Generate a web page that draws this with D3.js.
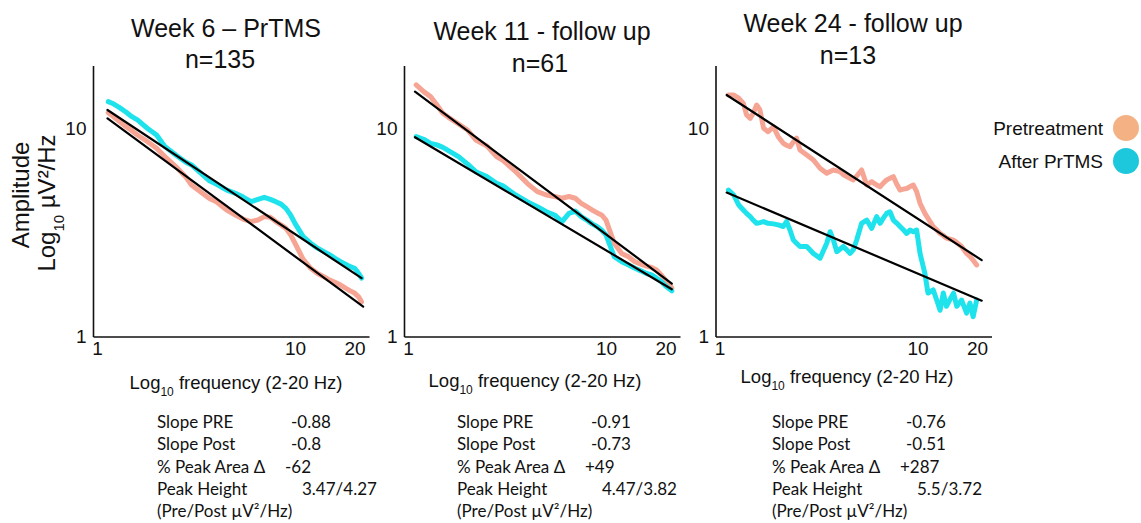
<!DOCTYPE html>
<html>
<head>
<meta charset="utf-8">
<script src="https://cdn.jsdelivr.net/npm/d3@7"></script>
<style>
    body { margin: 0; background: #fff; }
    text { font-family: "Liberation Sans", Arial, sans-serif; fill: #111; }
    .stats text { font-family: Lato, "Open Sans", sans-serif; }
</style>
</head>
<body>
<svg id="chart" width="1141" height="523"></svg>
<script>
const titles = ['Week 6 \u2013 PrTMS', 'Week 11 - follow up', 'Week 24 - follow up'];
const groupSizes = ['n=135', 'n=61', 'n=13'];
const seriesNames = ['Pretreatment', 'After PrTMS'];
const xTickValues = [1, 10, 20];
const yTickValues = [1, 10];

// week 6 spectra (Hz, µV²/Hz)
const freq6 = [1.14, 1.2, 1.3, 1.4, 1.5, 1.6, 1.8, 2, 2.2, 2.5, 2.8, 3, 3.5, 3.7, 4, 4.5, 5, 5.5, 6, 6.5,
    7, 7.5, 8, 8.5, 9, 9.5, 10, 11, 12, 13, 14, 15, 16, 17, 18, 19, 20, 21, 21.7];
const pre6 = [11.92, 11.49, 10.79, 10.2, 9.76, 9.3, 8.64, 8.03, 7.32, 6.55, 5.86, 5.34, 4.78, 4.6, 4.44, 4.05,
    3.83, 3.65, 3.56, 3.62, 3.76, 3.73, 3.56, 3.43, 3.3, 3.07, 2.8, 2.34, 2.12, 2.0, 1.93, 1.86, 1.81, 1.76,
    1.7, 1.65, 1.61, 1.54, 1.46];
const post6 = [13.46, 13.2, 12.6, 12.0, 11.4, 11.0, 10.0, 9.3, 8.2, 7.45, 6.9, 6.67, 5.86, 5.6, 5.4, 5.06,
    4.87, 4.66, 4.44, 4.55, 4.66, 4.55, 4.44, 4.32, 4.12, 3.83, 3.49, 3.01, 2.8, 2.65, 2.55, 2.46, 2.36, 2.28,
    2.22, 2.16, 2.12, 2.0, 1.9];
const fitPreFreq6 = [1.13, 22.1];
const fitPreAmp6 = [11.19, 1.385];
const fitPostFreq6 = [1.13, 21.7];
const fitPostAmp6 = [12.28, 1.9];

// week 11
const freq11 = [1.1, 1.2, 1.3, 1.4, 1.5, 1.6, 1.8, 2, 2.2, 2.5, 2.8, 3, 3.5, 4, 4.5, 5, 5.5, 6, 6.5, 7,
    7.5, 8, 8.5, 9, 9.5, 10, 11, 12, 13, 14, 15, 16, 17, 18, 19, 20, 21, 21.5];
const pre11 = [16.2, 15.05, 14.24, 12.98, 11.83, 11.32, 10.51, 9.83, 8.8, 8.24, 7.32, 7.05, 6.19, 5.44, 4.96,
    4.78, 4.7, 4.61, 4.7, 4.61, 4.36, 4.2, 4.05, 3.93, 3.83, 3.62, 2.8, 2.5, 2.41, 2.28, 2.22, 2.17, 2.14, 2.08,
    1.97, 1.86, 1.76, 1.7];
const post11 = [9.13, 8.87, 8.48, 8.33, 8.11, 7.82, 7.32, 6.73, 6.19, 5.86, 5.44, 5.31, 4.78, 4.44, 4.2,
    3.97, 3.83, 3.56, 3.9, 4.0, 3.76, 3.62, 3.47, 3.37, 3.24, 3.07, 2.41, 2.28, 2.2, 2.12, 2.06, 2.0, 1.97,
    1.9, 1.83, 1.74, 1.68, 1.65];
const fitPreFreq11 = [1.085, 21.5];
const fitPreAmp11 = [15.05, 1.79];
const fitPostFreq11 = [1.085, 21.5];
const fitPostAmp11 = [9.07, 1.68];

// week 24
const freq24 = [1.11, 1.18, 1.25, 1.32, 1.37, 1.43, 1.48, 1.54, 1.6, 1.67, 1.76, 1.87, 1.98, 2.1, 2.18, 2.27,
    2.36, 2.45, 2.55, 2.76, 2.98, 3.22, 3.48, 3.62, 3.76, 3.91, 4.06, 4.22, 4.39, 4.56, 4.74, 4.93, 5.22, 5.54,
    5.87, 6.22, 6.47, 6.72, 6.99, 7.26, 7.55, 7.85, 8.16, 8.48, 8.82, 9.17, 9.53, 9.9, 10.3, 10.9, 11.3, 12.0,
    12.5, 13.0, 13.5, 14.0, 14.6, 15.2, 15.8, 16.7, 17.7, 18.4, 19.1, 19.9];
const pre24 = [14.5, 14.5, 14.0, 13.22, 11.62, 11.19, 11.83, 12.98, 12.28, 10.02, 9.65, 10.2, 9.13, 8.48, 8.3,
    8.17, 8.6, 8.97, 7.88, 7.45, 7.05, 6.43, 6.08, 6.2, 6.31, 6.25, 6.19, 6.0, 5.86, 5.75, 5.65, 5.9, 6.31,
    5.34, 5.54, 5.34, 5.24, 5.45, 5.65, 5.75, 5.86, 5.4, 5.05, 5.1, 5.14, 5.25, 5.34, 4.96, 4.36, 3.9, 3.69,
    3.37, 3.25, 3.12, 3.05, 2.96, 2.93, 2.9, 2.82, 2.7, 2.5, 2.42, 2.32, 2.2];
const post24 = [5.05, 4.78, 4.28, 4.05, 3.9, 3.76, 3.62, 3.49, 3.52, 3.56, 3.49, 3.47, 3.43, 3.37, 3.56, 3.24,
    2.9, 2.8, 2.7, 2.7, 2.5, 2.37, 2.8, 3.18, 2.9, 2.55, 2.62, 2.7, 2.6, 2.5, 2.6, 2.9, 3.49, 3.62, 3.3, 3.76,
    3.49, 3.7, 3.9, 3.97, 3.62, 3.5, 3.37, 3.25, 3.12, 3.24, 3.18, 3.24, 2.5, 2.0, 1.61, 1.67, 1.49, 1.33,
    1.61, 1.39, 1.5, 1.61, 1.39, 1.49, 1.29, 1.44, 1.24, 1.49];
const fitPreFreq24 = [1.087, 21.1];
const fitPreAmp24 = [14.5, 2.32];
const fitPostFreq24 = [1.087, 21.1];
const fitPostAmp24 = [4.91, 1.48];

// summary statistics under each panel
const slopePre = ['-0.88', '-0.91', '-0.76'];
const slopePost = ['-0.8', '-0.73', '-0.51'];
const peakAreaDelta = ['-62', '+49', '+287'];
const peakHeight = ['3.47/4.27', '4.47/3.82', '5.5/3.72'];

const preColor = '#F6A594';
const postColor = '#1EE2EC';
const legendColors = ['#F4B183', '#1DC7DC'];

const zip = (xs, ys) => xs.map((x, i) => ({ f: x, a: ys[i] }));

const panels = [
    { freq: freq6, pre: pre6, post: post6, fitPre: zip(fitPreFreq6, fitPreAmp6), fitPost: zip(fitPostFreq6, fitPostAmp6) },
    { freq: freq11, pre: pre11, post: post11, fitPre: zip(fitPreFreq11, fitPreAmp11), fitPost: zip(fitPostFreq11, fitPostAmp11) },
    { freq: freq24, pre: pre24, post: post24, fitPre: zip(fitPreFreq24, fitPreAmp24), fitPost: zip(fitPostFreq24, fitPostAmp24) }
];

// layout
const layout = {
    origin: [97, 408, 719.5],      // x pixel of 1 Hz in each panel
    pxPerDecade: 198,
    axisLength: 276,
    titleX: [226, 542, 853],
    titleY: [37, 40, 32],
    nX: [220, 540, 848],
    nY: [68, 72, 64],
    xLabelX: [236, 535, 847],
    xLabelY: [389, 387, 383],
    statsX: [157, 457, 772],
    statsRows: [428, 450, 473, 495, 517],
    valueOffset: [134, 134, 128, 145]
};

const svg = d3.select('#chart');
const yScale = d3.scaleLog().domain([1, 20]).range([336, 66]);

function getXScale(i) {
    const x0 = layout.origin[i];
    return d3.scaleLog().domain([1, 20]).range([x0, x0 + layout.pxPerDecade * Math.log10(20)]);
}

function appendAxes(g, xScale) {
    const left = xScale.range()[0] - 3.5;
    const bottom = yScale(1) + 1;

    g.append('line').attr('x1', left).attr('x2', left)
        .attr('y1', bottom).attr('y2', yScale(20))
        .attr('stroke', '#111').attr('stroke-width', 1.6);
    g.append('line').attr('x1', left).attr('x2', left + layout.axisLength)
        .attr('y1', bottom).attr('y2', bottom)
        .attr('stroke', '#111').attr('stroke-width', 1.6);

    const yAxis = d3.axisLeft(yScale).tickValues(yTickValues).tickFormat(d3.format('d'))
        .tickSize(0).tickPadding(7);
    const ya = g.append('g').attr('transform', `translate(${left},0)`).call(yAxis);
    ya.select('.domain').remove();

    const xAxis = d3.axisBottom(xScale).tickValues(xTickValues).tickFormat(d3.format('d'))
        .tickSize(0).tickPadding(5);
    const xa = g.append('g').attr('transform', `translate(0,${bottom})`).call(xAxis);
    xa.select('.domain').remove();

    g.selectAll('.tick text')
        .style('font-family', '"Liberation Sans", Arial, sans-serif')
        .style('font-size', '19px')
        .attr('fill', '#111');
}

function appendCurve(g, xScale, points, color, width) {
    const lineGen = d3.line().x((d) => xScale(d.f)).y((d) => yScale(d.a));
    g.append('path').attr('d', lineGen(points))
        .attr('fill', 'none')
        .attr('stroke', color)
        .attr('stroke-width', width)
        .attr('stroke-linejoin', 'round')
        .attr('stroke-linecap', 'round');
}

function appendPanel(i) {
    const p = panels[i];
    const xScale = getXScale(i);
    const g = svg.append('g');

    appendAxes(g, xScale);
    appendCurve(g, xScale, zip(p.freq, p.pre), preColor, 5);
    appendCurve(g, xScale, zip(p.freq, p.post), postColor, 5);
    appendCurve(g, xScale, p.fitPre, '#000', 2.2);
    appendCurve(g, xScale, p.fitPost, '#000', 2.2);

    // titles
    g.append('text').text(titles[i])
        .attr('x', layout.titleX[i]).attr('y', layout.titleY[i])
        .attr('text-anchor', 'middle').style('font-size', '25px');
    g.append('text').text(groupSizes[i])
        .attr('x', layout.nX[i]).attr('y', layout.nY[i])
        .attr('text-anchor', 'middle').style('font-size', '25px');

    // x label
    const xl = g.append('text')
        .attr('x', layout.xLabelX[i]).attr('y', layout.xLabelY[i])
        .attr('text-anchor', 'middle').style('font-size', '18.5px');
    xl.append('tspan').text('Log');
    xl.append('tspan').text('10').attr('baseline-shift', 'sub').style('font-size', '12px');
    xl.append('tspan').text(' frequency (2-20 Hz)');

    // statistics
    const st = g.append('g').attr('class', 'stats');
    const x0 = layout.statsX[i];
    const rows = [
        ['Slope PRE', slopePre[i]],
        ['Slope Post', slopePost[i]],
        ['% Peak Area \u0394', peakAreaDelta[i]],
        ['Peak Height', peakHeight[i]]
    ];
    rows.forEach((r, k) => {
        st.append('text').text(r[0]).attr('x', x0).attr('y', layout.statsRows[k]).style('font-size', '17px');
        st.append('text').text(r[1]).attr('x', x0 + layout.valueOffset[k]).attr('y', layout.statsRows[k])
            .style('font-size', '17px');
    });
    st.append('text').text('(Pre/Post \u00b5V\u00b2/Hz)')
        .attr('x', x0).attr('y', layout.statsRows[4]).style('font-size', '17px');
}

panels.forEach((p, i) => appendPanel(i));

// y axis title
const yTitle = svg.append('g');
yTitle.append('text').text('Amplitude')
    .attr('transform', 'translate(29,195) rotate(-90)')
    .attr('text-anchor', 'middle').style('font-size', '24px');
const yt2 = yTitle.append('text')
    .attr('transform', 'translate(55,203) rotate(-90)')
    .attr('text-anchor', 'middle').style('font-size', '24px');
yt2.append('tspan').text('Log');
yt2.append('tspan').text('10').attr('baseline-shift', 'sub').style('font-size', '15px');
yt2.append('tspan').text(' \u00b5V\u00b2/Hz');

// legend
const legend = svg.append('g');
seriesNames.forEach((name, i) => {
    const cy = 128 + i * 33;
    legend.append('circle').attr('cx', 1126).attr('cy', cy).attr('r', 13).attr('fill', legendColors[i]);
    legend.append('text').text(name)
        .attr('x', 1103).attr('y', cy + 6.5)
        .attr('text-anchor', 'end').style('font-size', '19px');
});
</script>
</body>
</html>
